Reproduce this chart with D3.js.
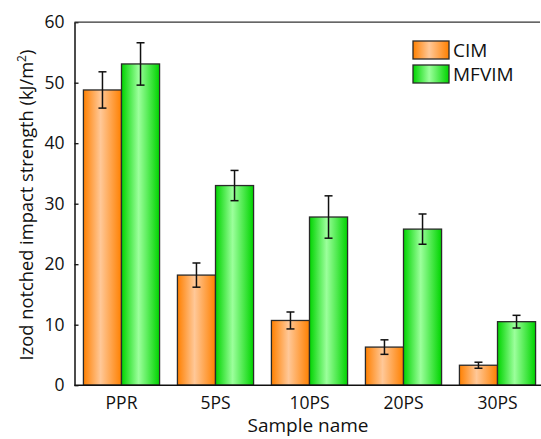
<!DOCTYPE html>
<html>
<head>
<meta charset="utf-8">
<script src="https://d3js.org/d3.v7.min.js"></script>
<style>
  body { margin: 0; background: #fff; }
  text { font-family: "Open Sans", "Noto Sans", sans-serif; fill: #111; }
</style>
</head>
<body>
<div id="chart"></div>
<script>
// Data
const categories = ["PPR", "5PS", "10PS", "20PS", "30PS"];
const seriesNames = ["CIM", "MFVIM"];
const cimValues = [48.8, 18.2, 10.7, 6.3, 3.3];
const cimErrors = [3.0, 2.0, 1.4, 1.2, 0.5];
const mfvimValues = [53.1, 33.0, 27.8, 25.8, 10.5];
const mfvimErrors = [3.5, 2.5, 3.5, 2.5, 1.05];
const yTicks = [0, 10, 20, 30, 40, 50, 60];

const width = 541, height = 439;
const margin = { top: 22.2, right: -3.5, bottom: 53.8, left: 74.5 };

const svg = d3.select("#chart")
    .append("svg")
    .attr("width", width)
    .attr("height", height);

// gradients for the shaded bars
const defs = svg.append("defs");
const gradients = {
    CIM: ["#ff8000", "#ffc898", "#ff8000"],
    MFVIM: ["#00d400", "#9cff9c", "#00d400"]
};
Object.entries(gradients).forEach(([key, c]) => {
    const g = defs.append("linearGradient")
        .attr("id", "grad-" + key)
        .attr("x1", "0%").attr("x2", "100%")
        .attr("y1", "0%").attr("y2", "0%");
    g.append("stop").attr("offset", "0%").attr("stop-color", c[0]);
    g.append("stop").attr("offset", "45%").attr("stop-color", c[1]);
    g.append("stop").attr("offset", "100%").attr("stop-color", c[2]);
});

const data = categories.map((cat, i) => ({
    cat,
    values: [
        { key: "CIM", value: cimValues[i], err: cimErrors[i] },
        { key: "MFVIM", value: mfvimValues[i], err: mfvimErrors[i] }
    ]
}));

// Scales
const x = d3.scaleBand()
    .domain(categories)
    .range([margin.left, width - margin.right])
    .paddingInner(0.19)
    .paddingOuter(0.095);

const xSub = d3.scaleBand()
    .domain(seriesNames)
    .range([0, x.bandwidth()]);

const y = d3.scaleLinear()
    .domain([0, 60])
    .range([height - margin.bottom, margin.top]);

// Bars
const groups = svg.selectAll("g.group")
    .data(data)
    .join("g")
    .attr("class", "group")
    .attr("transform", d => `translate(${x(d.cat)},0)`);

groups.selectAll("rect")
    .data(d => d.values)
    .join("rect")
    .attr("x", d => xSub(d.key))
    .attr("y", d => y(d.value))
    .attr("width", xSub.bandwidth())
    .attr("height", d => y(0) - y(d.value))
    .attr("fill", d => `url(#grad-${d.key})`)
    .attr("stroke", "#2a2a2a")
    .attr("stroke-width", 1.3);

// Error bars
const err = groups.selectAll("g.err")
    .data(d => d.values)
    .join("g")
    .attr("class", "err")
    .attr("stroke", "#111")
    .attr("stroke-width", 1.5);

const cx = d => xSub(d.key) + xSub.bandwidth() / 2;
err.append("line")
    .attr("x1", cx).attr("x2", cx)
    .attr("y1", d => y(d.value + d.err))
    .attr("y2", d => y(d.value - d.err));
err.append("line")
    .attr("x1", d => cx(d) - 4).attr("x2", d => cx(d) + 4)
    .attr("y1", d => y(d.value + d.err))
    .attr("y2", d => y(d.value + d.err));
err.append("line")
    .attr("x1", d => cx(d) - 4).attr("x2", d => cx(d) + 4)
    .attr("y1", d => y(d.value - d.err))
    .attr("y2", d => y(d.value - d.err));

// Y axis (ticks point inward)
const yAxis = svg.append("g")
    .attr("transform", `translate(${margin.left},0)`)
    .call(d3.axisLeft(y).tickValues(yTicks).tickSize(-4).tickPadding(10).tickSizeOuter(0));
yAxis.select(".domain").attr("stroke", "#111").attr("stroke-width", 1.5);
yAxis.selectAll(".tick line").attr("stroke", "#111").attr("stroke-width", 1.3);
yAxis.selectAll("text").attr("font-size", 17.5).style("fill", "#111");

// X axis
const xAxis = svg.append("g")
    .attr("transform", `translate(0,${y(0)})`)
    .call(d3.axisBottom(x).tickSize(0).tickPadding(11).tickSizeOuter(0));
xAxis.select(".domain").attr("stroke", "#111").attr("stroke-width", 1.6)
    .attr("d", `M${margin.left},0H${width}`);
xAxis.selectAll("text").attr("font-size", 17.5).style("fill", "#111");

// Top frame line
svg.append("line")
    .attr("x1", margin.left).attr("x2", width - 1)
    .attr("y1", y(60)).attr("y2", y(60))
    .attr("stroke", "#333").attr("stroke-width", 1.3);

// Axis titles
svg.append("text")
    .attr("x", 308)
    .attr("y", 432)
    .attr("text-anchor", "middle")
    .attr("font-size", 19)
    .text("Sample name");

const yLabel = svg.append("text")
    .attr("transform", `translate(33,${205}) rotate(-90)`)
    .attr("text-anchor", "middle")
    .attr("font-size", 18.3);
yLabel.append("tspan").text("Izod notched impact strength (kJ/m");
yLabel.append("tspan").attr("font-size", 12).attr("dy", -7).text("2");
yLabel.append("tspan").attr("dy", 7).text(")");

// Legend
const legend = svg.append("g")
    .attr("transform", "translate(413,41)");
const li = legend.selectAll("g")
    .data(seriesNames)
    .join("g")
    .attr("transform", (d, i) => `translate(0,${i * 24})`);
li.append("rect")
    .attr("width", 36).attr("height", 18)
    .attr("fill", d => `url(#grad-${d})`)
    .attr("stroke", "#2a2a2a").attr("stroke-width", 1.3);
li.append("text")
    .attr("x", 40).attr("y", 9)
    .attr("dy", "0.35em")
    .attr("font-size", 19)
    .text(d => d);
</script>
</body>
</html>
